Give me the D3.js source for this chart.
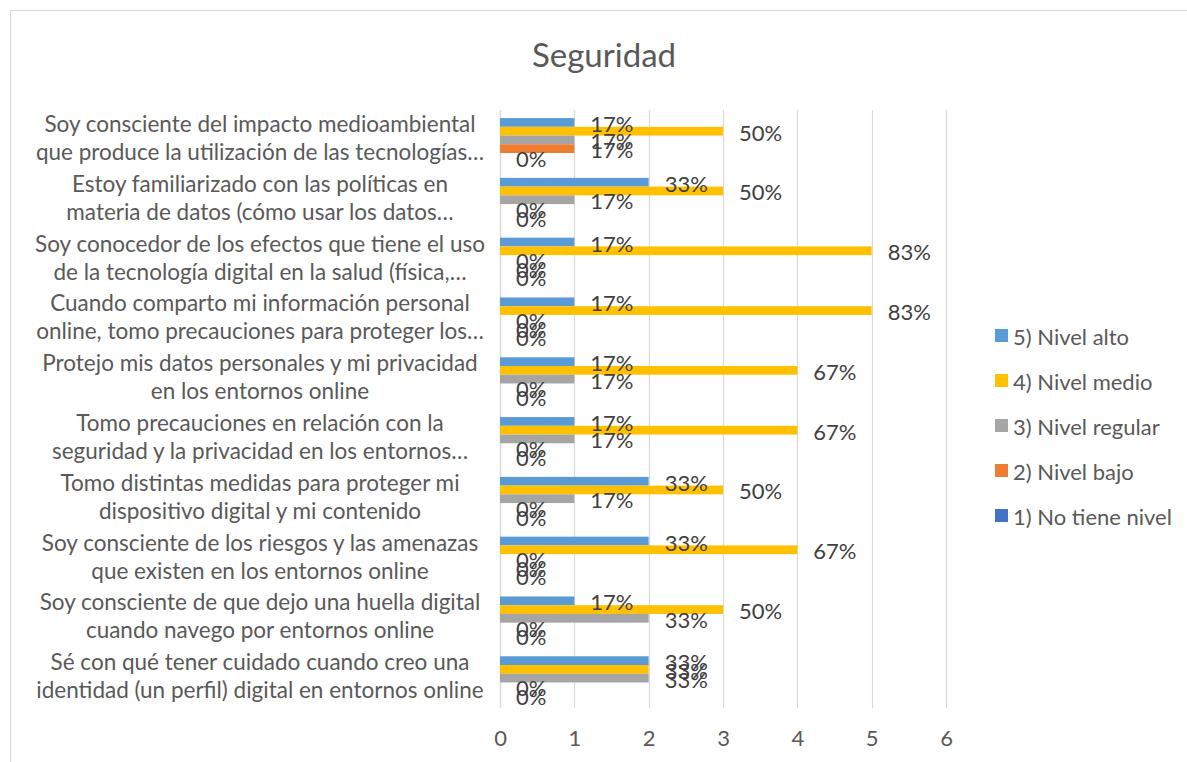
<!DOCTYPE html>
<html>
<head>
<meta charset="utf-8">
<script src="https://cdn.jsdelivr.net/npm/d3@7"></script>
<style>
  body { margin: 0; background: #fff; }
  svg { display: block; font-family: Lato, "Open Sans", sans-serif; }
</style>
</head>
<body>
<div id="chart"></div>
<script>
// categorias (de arriba a abajo, como se ven en el grafico)
const categories = [
  "Soy consciente del impacto medioambiental\nque produce la utilización de las tecnologías…",
  "Estoy familiarizado con las políticas en\nmateria de datos (cómo usar los datos…",
  "Soy conocedor de los efectos que tiene el uso\nde la tecnología digital en la salud (física,…",
  "Cuando comparto mi información personal\nonline, tomo precauciones para proteger los…",
  "Protejo mis datos personales y mi privacidad\nen los entornos online",
  "Tomo precauciones en relación con la\nseguridad y la privacidad en los entornos…",
  "Tomo distintas medidas para proteger mi\ndispositivo digital y mi contenido",
  "Soy consciente de los riesgos y las amenazas\nque existen en los entornos online",
  "Soy consciente de que dejo una huella digital\ncuando navego por entornos online",
  "Sé con qué tener cuidado cuando creo una\nidentidad (un perfil) digital en entornos online"
];

const seriesNames = ["5) Nivel alto", "4) Nivel medio", "3) Nivel regular", "2) Nivel bajo", "1) No tiene nivel"];

// numero de respuestas por nivel
const nivelAlto    = [1, 2, 1, 1, 1, 1, 2, 2, 1, 2];
const nivelMedio   = [3, 3, 5, 5, 4, 4, 3, 4, 3, 2];
const nivelRegular = [1, 1, 0, 0, 1, 1, 1, 0, 2, 2];
const nivelBajo    = [1, 0, 0, 0, 0, 0, 0, 0, 0, 0];
const noTieneNivel = [0, 0, 0, 0, 0, 0, 0, 0, 0, 0];

const totalRespuestas = 6;
const xTicks = [0, 1, 2, 3, 4, 5, 6];

const seriesColors = ["#5B9BD5", "#FFC000", "#A5A5A5", "#ED7D31", "#4472C4"];

function drawChart(options = {}) {
  const {
    width = 1187,
    height = 762,
    left = 500,
    right = 946,
    top = 110,
    bottom = 708
  } = options;

  const seriesValues = [nivelAlto, nivelMedio, nivelRegular, nivelBajo, noTieneNivel];

  // tabla plana: una fila por barra
  const rows = [];
  categories.forEach((c, i) => {
    seriesNames.forEach((s, j) => {
      rows.push({ category: c, series: s, value: seriesValues[j][i] });
    });
  });

  const svg = d3.select("#chart").append("svg")
    .attr("width", width)
    .attr("height", height);

  // borde del grafico
  svg.append("rect")
    .attr("x", 10.5).attr("y", 10.5)
    .attr("width", width + 20).attr("height", height + 20)
    .attr("fill", "none")
    .attr("stroke", "#d9d9d9");

  const x = d3.scaleLinear().domain([0, 6]).range([left, right]);
  const y = d3.scaleBand().domain(categories).range([top, bottom])
    .paddingInner(0.27).paddingOuter(0.135);
  const ySub = d3.scaleBand().domain(seriesNames).range([0, y.bandwidth()]);
  const color = d3.scaleOrdinal().domain(seriesNames).range(seriesColors);
  const pct = d3.format(".0%");

  // titulo
  svg.append("text")
    .attr("x", 604).attr("y", 67)
    .attr("text-anchor", "middle")
    .attr("font-size", 33)
    .attr("fill", "#595959")
    .text("Seguridad");

  // lineas de division
  svg.append("g")
    .selectAll("line")
    .data(xTicks)
    .join("line")
    .attr("x1", d => Math.round(x(d)) + 0.5)
    .attr("x2", d => Math.round(x(d)) + 0.5)
    .attr("y1", top).attr("y2", bottom)
    .attr("stroke", "#d9d9d9")
    .attr("stroke-width", d => d === 0 ? 1.5 : 1.2);

  // eje x
  const xAxis = svg.append("g")
    .attr("transform", `translate(0,${bottom})`)
    .call(d3.axisBottom(x).tickValues(xTicks).tickSize(0).tickPadding(22).tickFormat(d3.format("d")));
  xAxis.select(".domain").remove();
  xAxis.selectAll("text")
    .attr("font-size", 22)
    .attr("font-family", "Lato, sans-serif")
    .attr("fill", "#595959");

  // etiquetas de categoria (centradas, dos lineas)
  const catLabels = svg.append("g")
    .selectAll("text")
    .data(categories)
    .join("text")
    .attr("text-anchor", "middle")
    .attr("font-size", 22.5)
    .attr("fill", "#595959");
  catLabels.each(function(d) {
    const lines = d.split("\n");
    const cy = y(d) + y.bandwidth() / 2;
    d3.select(this).selectAll("tspan")
      .data(lines)
      .join("tspan")
      .attr("x", 260)
      .attr("y", (l, k) => cy - 8 + k * 28)
      .text(l => l);
  });

  // barras
  svg.append("g")
    .selectAll("rect")
    .data(rows)
    .join("rect")
    .attr("x", x(0))
    .attr("y", d => y(d.category) + ySub(d.series))
    .attr("width", d => x(d.value) - x(0))
    .attr("height", ySub.bandwidth())
    .attr("fill", d => color(d.series));

  // etiquetas de datos
  svg.append("g")
    .selectAll("text")
    .data(rows)
    .join("text")
    .attr("x", d => x(d.value) + 16)
    .attr("y", d => y(d.category) + ySub(d.series) + ySub.bandwidth() / 2 + 1)
    .attr("dominant-baseline", "central")
    .attr("font-size", 22)
    .attr("fill", "#404040")
    .text(d => pct(d.value / totalRespuestas));

  // leyenda
  const legend = svg.append("g")
    .selectAll("g")
    .data(seriesNames)
    .join("g")
    .attr("transform", (d, i) => `translate(995,${336 + i * 45})`);
  legend.append("rect")
    .attr("x", 0).attr("y", -7)
    .attr("width", 13).attr("height", 13)
    .attr("fill", d => color(d));
  legend.append("text")
    .attr("x", 18)
    .attr("dominant-baseline", "central")
    .attr("font-size", 22)
    .attr("fill", "#595959")
    .text(d => d);
}

drawChart();
</script>
</body>
</html>
